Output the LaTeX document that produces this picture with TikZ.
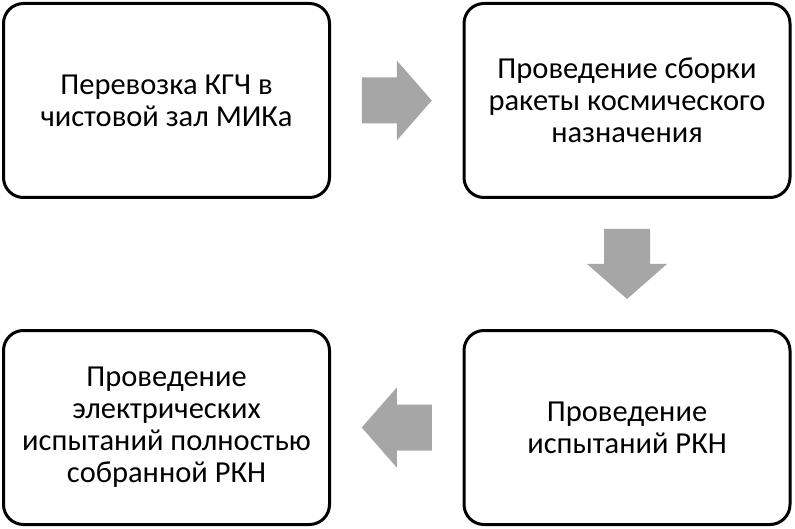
\documentclass[tikz,border=0pt]{standalone}
\usepackage{fontspec}
\setmainfont{Carlito}
\usepackage{tikz}
\usetikzlibrary{calc}

\tikzset{
  stage/.style={draw, line width=3pt, rounded corners=20pt, minimum width=326pt,
    minimum height=194pt, align=center, inner sep=0pt,
    font=\fontsize{30.5}{32}\selectfont},
  blockarrow/.style={fill=black!35, draw=none}
}
\newcommand{\blockarr}[2]{%
  \fill[blockarrow, shift={(#1)}, rotate=#2] (-35,-23) -- (0,-23) -- (0,-40) -- (35,0)
    -- (0,40) -- (0,23) -- (-35,23) -- cycle;}

\begin{document}
\begin{tikzpicture}[x=1pt, y=1pt]
  \useasboundingbox (0,0) rectangle (795,-529);
  \node[stage] (kgch) at (166.5,-100.5) {Перевозка КГЧ в\\чистовой зал МИКа};
  \node[stage] (sborka) at (627,-100.5) {Проведение сборки\\ракеты космического\\назначения};
  \node[stage] (ispyt) at (627,-427.5) {Проведение\\испытаний РКН};
  \node[stage] (elektr) at (166.5,-427.5) {Проведение\\электрических\\испытаний полностью\\собранной РКН};
  \coordinate (m1) at ($(kgch.east)!0.5!(sborka.west)$);
  \coordinate (m2) at ($(sborka.south)!0.5!(ispyt.north)$);
  \coordinate (m3) at ($(ispyt.west)!0.5!(elektr.east)$);
  \blockarr{m1}{0}
  \blockarr{m2}{-90}
  \blockarr{m3}{180}
\end{tikzpicture}
\end{document}
